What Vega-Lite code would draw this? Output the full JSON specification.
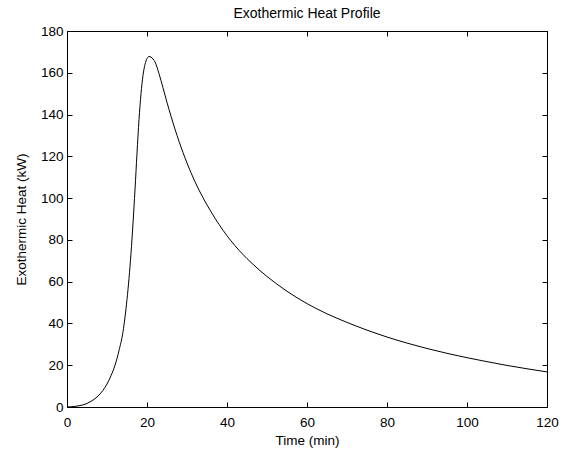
{
  "$schema": "https://vega.github.io/schema/vega-lite/v6.json",
  "width": 480,
  "height": 376,
  "autosize": "none",
  "padding": {"left": 67, "top": 31, "right": 19, "bottom": 44},
  "background": "white",
  "title": {"text": "Exothermic Heat Profile", "font": "Liberation Sans", "fontSize": 14, "fontWeight": "normal", "color": "black", "offset": 3},
  "config": {
    "view": {"stroke": "black", "strokeWidth": 1},
    "axis": {"domainColor": "black", "tickColor": "black", "labelColor": "black", "titleColor": "black", "labelFont": "Liberation Sans", "titleFont": "Liberation Sans", "labelFontSize": 13.5, "titleFontSize": 13.5, "titleFontWeight": "normal", "grid": false, "tickSize": -5, "domainWidth": 1, "tickWidth": 1}
  },
  "data": {"values": [
    {"t": 0, "q": 0}, {"t": 1, "q": 0.1}, {"t": 2, "q": 0.3}, {"t": 3, "q": 0.6}, {"t": 4, "q": 1.0},
    {"t": 5, "q": 1.7}, {"t": 6, "q": 2.7}, {"t": 7, "q": 4.0}, {"t": 8, "q": 5.7}, {"t": 9, "q": 8.0},
    {"t": 10, "q": 11}, {"t": 11, "q": 15}, {"t": 12, "q": 20}, {"t": 13, "q": 27}, {"t": 14, "q": 36},
    {"t": 14.5, "q": 43}, {"t": 15, "q": 51.5}, {"t": 15.5, "q": 61.5}, {"t": 16, "q": 73.5}, {"t": 16.5, "q": 88},
    {"t": 17, "q": 104}, {"t": 17.5, "q": 121.5}, {"t": 18, "q": 137.5}, {"t": 18.5, "q": 150}, {"t": 19, "q": 158.8},
    {"t": 19.5, "q": 164}, {"t": 20, "q": 166.8}, {"t": 20.5, "q": 167.8}, {"t": 21, "q": 167.5}, {"t": 21.5, "q": 166.6},
    {"t": 22, "q": 165.2}, {"t": 23, "q": 159.6}, {"t": 24, "q": 152.8}, {"t": 25, "q": 145.8}, {"t": 26, "q": 139.2},
    {"t": 27, "q": 133}, {"t": 28, "q": 127.2}, {"t": 29, "q": 121.8}, {"t": 30, "q": 116.8}, {"t": 32, "q": 107.8},
    {"t": 34, "q": 100.2}, {"t": 36, "q": 93.5}, {"t": 38, "q": 87.4}, {"t": 40, "q": 82}, {"t": 42, "q": 77.2},
    {"t": 44, "q": 73}, {"t": 46, "q": 69.2}, {"t": 48, "q": 65.7}, {"t": 50, "q": 62.5}, {"t": 55, "q": 55.4},
    {"t": 60, "q": 49.5}, {"t": 65, "q": 44.6}, {"t": 70, "q": 40.5}, {"t": 75, "q": 36.8}, {"t": 80, "q": 33.5},
    {"t": 85, "q": 30.6}, {"t": 90, "q": 28}, {"t": 95, "q": 25.7}, {"t": 100, "q": 23.6}, {"t": 105, "q": 21.7},
    {"t": 110, "q": 19.9}, {"t": 115, "q": 18.3}, {"t": 120, "q": 16.8}
  ]},
  "layer": [
    {
      "mark": {"type": "line", "color": "black", "strokeWidth": 1, "interpolate": "monotone"},
      "encoding": {
        "x": {"field": "t", "type": "quantitative", "title": "Time (min)", "scale": {"domain": [0, 120], "nice": false, "zero": false},
              "axis": {"values": [0, 20, 40, 60, 80, 100, 120], "labelPadding": 13, "titlePadding": 5, "labelFlush": false}},
        "y": {"field": "q", "type": "quantitative", "title": "Exothermic Heat (kW)", "scale": {"domain": [0, 180], "nice": false},
              "axis": {"values": [0, 20, 40, 60, 80, 100, 120, 140, 160, 180], "labelPadding": 9, "titlePadding": 12}}
      }
    },
    {
      "mark": {"type": "line", "strokeOpacity": 0},
      "encoding": {
        "x": {"field": "t", "type": "quantitative", "axis": {"orient": "top", "values": [0, 20, 40, 60, 80, 100, 120], "labels": false, "title": null}},
        "y": {"field": "q", "type": "quantitative", "axis": {"orient": "right", "values": [0, 20, 40, 60, 80, 100, 120, 140, 160, 180], "labels": false, "title": null}}
      }
    }
  ],
  "resolve": {"axis": {"x": "independent", "y": "independent"}}
}
